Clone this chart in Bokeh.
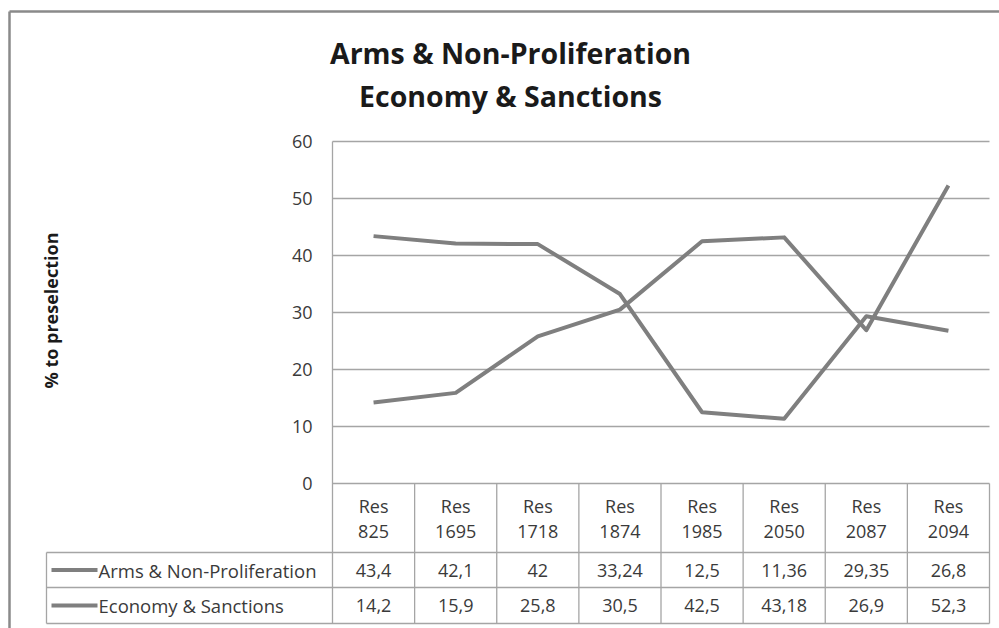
from bokeh.plotting import figure
from bokeh.models import Range1d
from bokeh.core.properties import value
from bokeh.embed import file_html
from bokeh.resources import INLINE
import math

# ---- data ----
categories = ["Res 825", "Res 1695", "Res 1718", "Res 1874", "Res 1985", "Res 2050", "Res 2087", "Res 2094"]
series_names = ["Arms & Non-Proliferation", "Economy & Sanctions"]
arms = [43.4, 42.1, 42, 33.24, 12.5, 11.36, 29.35, 26.8]
economy = [14.2, 15.9, 25.8, 30.5, 42.5, 43.18, 26.9, 52.3]
arms_labels = ["43,4", "42,1", "42", "33,24", "12,5", "11,36", "29,35", "26,8"]
economy_labels = ["14,2", "15,9", "25,8", "30,5", "42,5", "43,18", "26,9", "52,3"]
y_ticks = [0, 10, 20, 30, 40, 50, 60]
title_lines = ["Arms & Non-Proliferation", "Economy & Sanctions"]
y_title = "% to preselection"

# ---- layout (canvas geometry) ----
W, H = 999, 628
PAGE = 0
PLOT_L, PLOT_R = 332, 989      # page px of plot area
Y0_PX, Y60_PX = 483, 141       # page px of value 0 and 60
ncat = len(categories)
PXX = (PLOT_R - PLOT_L) / ncat
PXY = (Y0_PX - Y60_PX) / 60.0

def px2x(px):
    return (px - PLOT_L) / PXX

def px2y(py):
    return (Y0_PX - py) / PXY

p = figure(width=W, height=H, output_backend="svg", toolbar_location=None,
           x_range=Range1d(px2x(PAGE), px2x(PAGE + W)),
           y_range=Range1d(px2y(PAGE + H), px2y(PAGE)),
           x_axis_type=None, y_axis_type=None,
           min_border=0, min_border_left=0, min_border_right=0,
           min_border_top=0, min_border_bottom=0)
p.outline_line_color = None
p.xgrid.visible = False
p.ygrid.visible = False
p.background_fill_color = "white"
p.border_fill_color = "white"

FONT = value("Open Sans")
GRID = "#a5a5a5"
TXT = "#3a3a3a"
LINE = "#7f7f7f"
FS = "18px"

# outer chart border
p.segment(x0=[px2x(9)], y0=[px2y(11)], x1=[px2x(9)], y1=[px2y(PAGE + H + 5)], line_color="#8a8a8a", line_width=2.5)
p.segment(x0=[px2x(9)], y0=[px2y(11)], x1=[px2x(PAGE + W + 5)], y1=[px2y(11)], line_color="#8a8a8a", line_width=2.5)

# gridlines
p.segment(x0=[0] * len(y_ticks), x1=[ncat] * len(y_ticks), y0=y_ticks, y1=y_ticks, line_color=GRID, line_width=1.3)

# table geometry
row1_top = px2y(552)
row2_top = px2y(587)
tab_bot = px2y(623)
tab_left = px2x(46)

# vertical lines
p.segment(x0=[0], x1=[0], y0=[y_ticks[-1]], y1=[tab_bot], line_color=GRID, line_width=1.3)
p.segment(x0=list(range(1, ncat + 1)), x1=list(range(1, ncat + 1)), y0=[0] * ncat, y1=[tab_bot] * ncat,
          line_color=GRID, line_width=1.3)
p.segment(x0=[tab_left], x1=[tab_left], y0=[row1_top], y1=[tab_bot], line_color=GRID, line_width=1.3)
# horizontal table lines
p.segment(x0=[tab_left] * 3, x1=[ncat] * 3, y0=[row1_top, row2_top, tab_bot], y1=[row1_top, row2_top, tab_bot],
          line_color=GRID, line_width=1.3)

# data lines
xs = [i + 0.5 for i in range(ncat)]
p.line(xs, arms, line_color=LINE, line_width=4, line_join="round")
p.line(xs, economy, line_color=LINE, line_width=4, line_join="round")

# y tick labels
p.text(x=[px2x(312)] * len(y_ticks), y=y_ticks, text=[str(t) for t in y_ticks],
       text_align="right", text_baseline="middle", text_font=FONT, text_font_size=FS, text_color=TXT)

# header labels
first = [c.split(" ")[0] for c in categories]
second = [c.split(" ")[1] for c in categories]
p.text(x=xs, y=[px2y(505)] * ncat, text=first, text_align="center", text_baseline="middle",
       text_font=FONT, text_font_size=FS, text_color=TXT)
p.text(x=xs, y=[px2y(531)] * ncat, text=second, text_align="center", text_baseline="middle",
       text_font=FONT, text_font_size=FS, text_color=TXT)

# row values
r1c = (row1_top + row2_top) / 2
r2c = (row2_top + tab_bot) / 2
p.text(x=xs, y=[r1c] * ncat, text=arms_labels, text_align="center", text_baseline="middle",
       text_font=FONT, text_font_size=FS, text_color=TXT)
p.text(x=xs, y=[r2c] * ncat, text=economy_labels, text_align="center", text_baseline="middle",
       text_font=FONT, text_font_size=FS, text_color=TXT)

# row labels with legend keys
p.segment(x0=[px2x(51)] * 2, x1=[px2x(97)] * 2, y0=[r1c, r2c], y1=[r1c, r2c], line_color=LINE, line_width=4)
p.text(x=[px2x(98)] * 2, y=[r1c, r2c], text=series_names, text_align="left", text_baseline="middle",
       text_font=FONT, text_font_size="18.5px", text_color=TXT)

# title
p.text(x=[px2x(510)] * 2, y=[px2y(52), px2y(95)], text=title_lines, text_align="center", text_baseline="middle",
       text_font=FONT, text_font_size="28.5px", text_font_style="bold", text_color="#1a1a1a")

# y axis title
p.text(x=[px2x(50)], y=[px2y(310)], text=[y_title], angle=math.pi / 2, text_align="center", text_baseline="middle",
       text_font=FONT, text_font_size="18px", text_font_style="bold", text_color="#1a1a1a")

open("out.html", "w").write(file_html(p, INLINE))
